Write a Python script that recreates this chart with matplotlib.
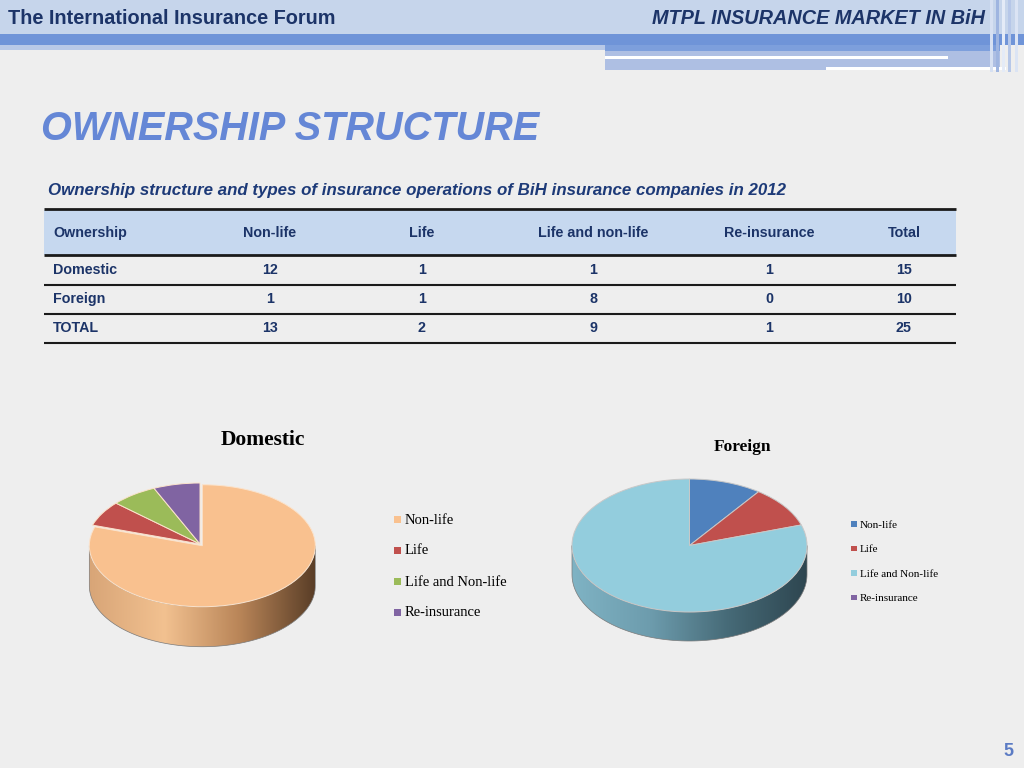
import matplotlib

matplotlib.use("Agg")
import matplotlib.pyplot as plt
import numpy as np
from matplotlib.colors import LinearSegmentedColormap
from matplotlib.patches import Polygon, Rectangle

# table data
table_cols = ["Ownership", "Non-life", "Life", "Life and non-life", "Re-insurance", "Total"]
row_names = ["Domestic", "Foreign", "TOTAL"]
non_life = [12, 1, 13]
life = [1, 1, 2]
life_and_non_life = [1, 8, 9]
re_insurance = [1, 0, 1]
totals = [15, 10, 25]

# pie data
pie_labels_dom = ["Non-life", "Life", "Life and Non-life", "Re-insurance"]
domestic_vals = [12, 1, 1, 1]
foreign_vals = [1, 1, 8, 0]
dom_colors = ["#f9c18f", "#c0504d", "#9bbb59", "#8064a2"]
for_colors = ["#4f81bd", "#c0504d", "#93cddd", "#8064a2"]

W, H = 1024, 768
NAVY = "#1c3468"

fig = plt.figure(figsize=(10.24, 7.68), dpi=100)
fig.patch.set_facecolor("#eeeeee")
bg = fig.add_axes([0, 0, 1, 1])
bg.set_xlim(0, W)
bg.set_ylim(H, 0)
bg.axis("off")

# header band
bg.add_patch(Rectangle((0, 0), W, 34, color="#c6d5eb", lw=0))
bg.add_patch(Rectangle((0, 34), W, 11, color="#6f94d8", lw=0))
bg.add_patch(Rectangle((0, 45), 605, 5, color="#b9c9e7", lw=0))
bg.add_patch(Rectangle((605, 45), 395, 6, color="#7d9fdc", lw=0))
bg.add_patch(Rectangle((605, 51), 395, 19, color="#aebfe3", lw=0))
bg.add_patch(Rectangle((605, 56), 343, 2.5, color="white", lw=0))
bg.add_patch(Rectangle((826, 67), 180, 3, color="white", lw=0))
for x, c in [(990, "#d6e0f2"), (996, "#9fb5e0"), (1002, "#e4ebf7"), (1008, "#b6c7e8"), (1015, "#dbe4f4")]:
    bg.add_patch(Rectangle((x, 0), 3, 72, color=c, lw=0))
bg.text(8, 18.5, "The International Insurance Forum", fontsize=14.3, color=NAVY, weight="bold",
        family="Liberation Sans", va="center", ha="left")
bg.text(985, 18.5, "MTPL INSURANCE MARKET IN BiH", fontsize=14.3, color=NAVY,
        family="Liberation Sans", style="italic", weight="bold", va="center", ha="right")

# titles
bg.text(41, 129, "OWNERSHIP STRUCTURE", fontsize=28.5, color="#6587d6",
        family="Liberation Sans", style="italic", weight="bold", va="center", ha="left")
bg.text(48, 190, "Ownership structure and types of insurance operations of BiH insurance companies in 2012",
        fontsize=12.2, color="#1d3a78", family="Liberation Sans", style="italic", weight="bold",
        va="center", ha="left")

# table
tx0, tx1 = 44, 956
bg.add_patch(Rectangle((tx0, 210), tx1 - tx0, 45, color="#c6d8ef", lw=0))
for y, lw in [(209, 2), (255, 2), (285, 1.5), (314, 1.5), (343, 1.5)]:
    bg.plot([tx0, tx1], [y, y], color="#1a1a1a", lw=lw, solid_capstyle="butt")
col_x = [53, 270, 422, 593, 769, 904]
for i, name in enumerate(table_cols):
    bg.text(col_x[i], 233, name, fontsize=10.3, weight="bold", color=NAVY, family="Liberation Sans",
            ha="left" if i == 0 else "center", va="center")
row_y = [270, 299, 328]
for r, name in enumerate(row_names):
    cells = [name, non_life[r], life[r], life_and_non_life[r], re_insurance[r], totals[r]]
    for i, v in enumerate(cells):
        bg.text(col_x[i], row_y[r], str(v), fontsize=10.3, weight="bold", color=NAVY,
                family="Liberation Sans", ha="left" if i == 0 else "center", va="center")

# page number
bg.text(1008, 752, "5", fontsize=13, weight="bold", color="#5b7bc4", family="Liberation Sans",
        ha="center", va="center")


def pie_3d(cx, cy, a, b, depth, values, colors, side_colors, explode, edge):
    m = 1.35
    top_px = cy - m * b
    bot_px = cy + m * b + depth
    ax = fig.add_axes([(cx - m * a) / W, 1 - bot_px / H, 2 * m * a / W, (bot_px - top_px) / H])
    wedges, _ = ax.pie(values, colors=colors, startangle=90, counterclock=False, explode=explode,
                       wedgeprops=dict(edgecolor=edge, linewidth=0.7))
    ax.set_aspect("auto")
    ax.axis("off")
    # side of the slice that sits at the front
    ox, oy = 0.0, 0.0
    for w in wedges:
        if w.theta2 - w.theta1 > 0 and (270 - w.theta1) % 360 <= (w.theta2 - w.theta1):
            ox, oy = w.center
    d = depth / b
    t = np.linspace(np.pi, 2 * np.pi, 120)
    xs = np.cos(t) + ox
    ys = np.sin(t) + oy
    verts = np.column_stack([np.r_[xs, xs[::-1]], np.r_[ys, ys[::-1] - d]])
    side = Polygon(verts, closed=True, facecolor="none", edgecolor="#7a7a7a", lw=0.5, zorder=0.6)
    ax.add_patch(side)
    cmap = LinearSegmentedColormap.from_list("side", side_colors)
    im = ax.imshow(np.linspace(0, 1, 256).reshape(1, -1), cmap=cmap, aspect="auto",
                   extent=(ox - 1, ox + 1, oy - 1 - d, oy), zorder=0.5)
    im.set_clip_path(side)
    ax.set_xlim(-m, m)
    ax.set_ylim(-m - d, m)
    return ax


pie_3d(200, 544, 113, 61, 40, domestic_vals, dom_colors,
       ["#d8a577", "#f2c190", "#b98558", "#5a3e27"], [0.035, 0, 0, 0], "#fbe3cc")
pie_3d(689.5, 545.5, 117.5, 66.5, 29, foreign_vals, for_colors,
       ["#7fb3c4", "#6d9cad", "#466a77", "#2e4650"], [0, 0, 0, 0], "#c8c8c8")

bg.text(263, 440, "Domestic", fontsize=15.5, weight="bold", family="Liberation Serif",
        ha="center", va="center", color="black")
bg.text(742, 447, "Foreign", fontsize=12.5, weight="bold", family="Liberation Serif",
        ha="center", va="center", color="black")

# legends
for i, lab in enumerate(pie_labels_dom):
    y = 520 + 31 * i
    bg.add_patch(Rectangle((394, y - 4.5), 7, 7, color=dom_colors[i], lw=0))
    bg.text(405, y, lab, fontsize=10.5, family="Liberation Serif", ha="left", va="center", color="black")
for i, lab in enumerate(pie_labels_dom):
    y = 525 + 24.6 * i
    bg.add_patch(Rectangle((851, y - 4), 5.5, 5.5, color=for_colors[i], lw=0))
    bg.text(860, y, lab, fontsize=8, family="Liberation Serif", ha="left", va="center", color="black")

plt.savefig("out.png", dpi=100, facecolor=fig.get_facecolor())
